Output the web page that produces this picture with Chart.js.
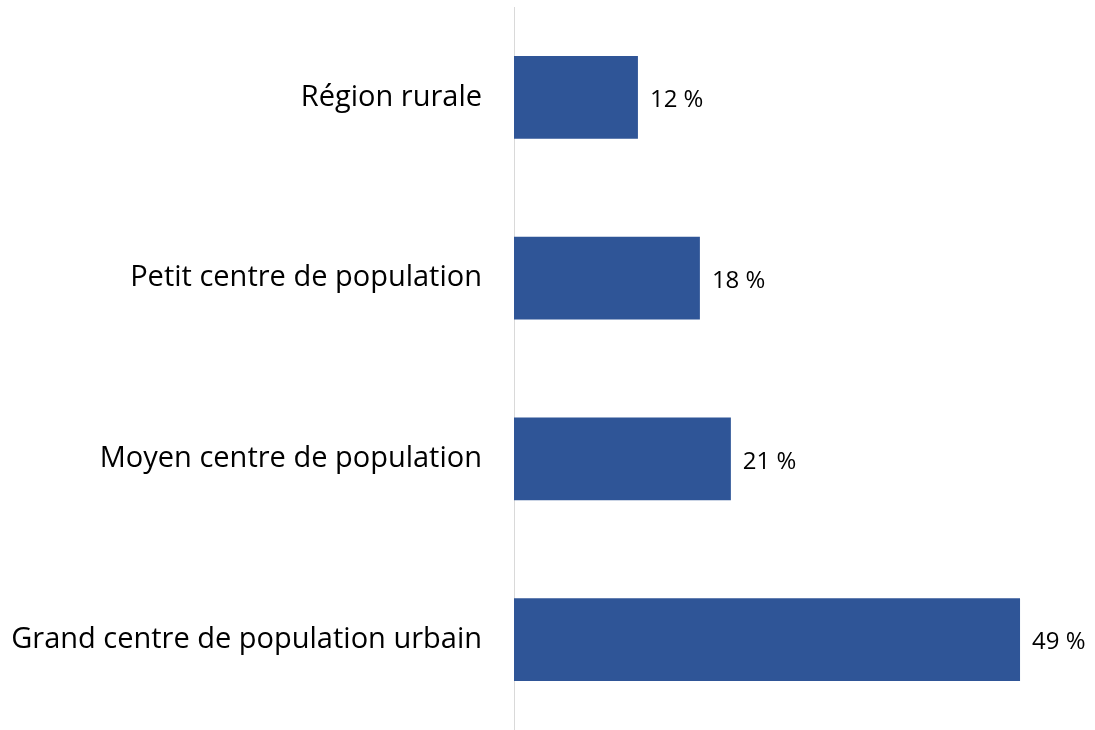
<!DOCTYPE html>
<html lang="fr">
<head>
  <meta charset="UTF-8">
  <title>Répartition par taille de centre de population</title>
  <script src="https://cdn.jsdelivr.net/npm/chart.js"></script>
  <style>
    body {
      margin: 0;
      padding: 0;
      background-color: #ffffff;
    }
    .wrap {
      width: 1095px;
      height: 730px;
      position: relative;
    }
  </style>
</head>
<body>
  <div class="wrap">
    <canvas id="barChart"></canvas>
  </div>

  <script>
    const categories = ['Région rurale', 'Petit centre de population', 'Moyen centre de population', 'Grand centre de population urbain'];
    const values = [12, 18, 21, 49];

    const fontFamily = '"Open Sans", Lato, sans-serif';

    // etiquettes de valeur au bout des barres
    const valueLabels = {
      id: 'valueLabels',
      afterDatasetsDraw(chart) {
        const ctx = chart.ctx;
        const meta = chart.getDatasetMeta(0);
        ctx.save();
        ctx.font = '24px ' + fontFamily;
        ctx.fillStyle = '#000000';
        ctx.textAlign = 'left';
        ctx.textBaseline = 'middle';
        meta.data.forEach((bar, i) => {
          ctx.fillText(values[i] + ' %', bar.x + 12, bar.y + 3);
        });
        ctx.restore();
      }
    };

    new Chart(document.getElementById('barChart'), {
      type: 'bar',
      data: {
        labels: categories,
        datasets: [{
          data: values,
          backgroundColor: '#2F5597',
          borderWidth: 0,
          categoryPercentage: 1,
          barPercentage: 0.458
        }]
      },
      options: {
        indexAxis: 'y',
        responsive: true,
        maintainAspectRatio: false,
        animation: false,
        layout: {
          padding: { top: 7, bottom: 0, left: 0, right: 13 }
        },
        plugins: {
          legend: { display: false },
          tooltip: { enabled: false }
        },
        scales: {
          x: {
            display: false,
            min: 0,
            max: 55
          },
          y: {
            afterFit(scale) {
              scale.width = 514;
              scale.paddingTop = 0;
              scale.paddingBottom = 0;
            },
            grid: { display: false, drawTicks: false },
            border: { display: true, color: '#d9d9d9', width: 1 },
            ticks: {
              padding: 32,
              color: '#000000',
              font: { family: fontFamily, size: 29 }
            }
          }
        }
      },
      plugins: [valueLabels]
    });
  </script>
</body>
</html>
